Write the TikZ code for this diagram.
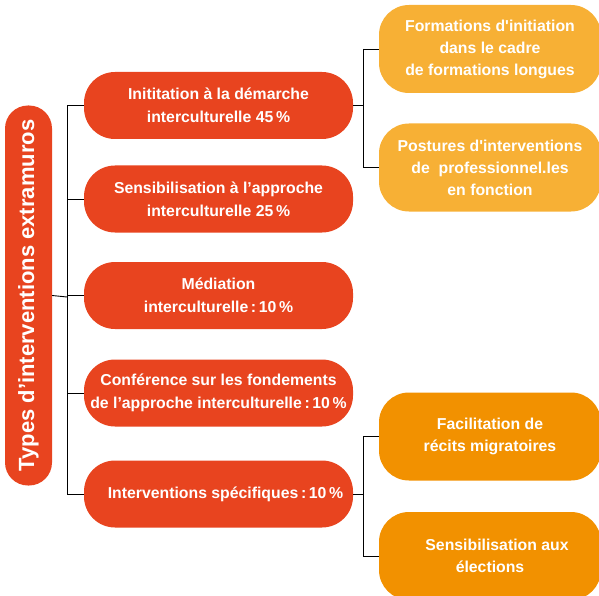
\documentclass[tikz,border=0pt]{standalone}
\usepackage{fontspec}
\setmainfont{Liberation Sans}
\definecolor{redbox}{HTML}{E8441F}
\definecolor{lightorange}{HTML}{F7B035}
\definecolor{darkorange}{HTML}{F29100}
\newcommand{\sq}{\textquotesingle}
\begin{document}
\begin{tikzpicture}[x=1pt,y=-1pt,
  lvlone/.style={fill=redbox, text=white, rounded corners=31pt, minimum width=269pt, minimum height=67pt, inner sep=0pt, align=center, font=\fontsize{15.8}{23}\selectfont\bfseries},
  lvltwoA/.style={fill=lightorange, text=white, rounded corners=30pt, minimum width=222pt, minimum height=88pt, inner sep=0pt, align=center, font=\fontsize{15.8}{22}\selectfont\bfseries},
  lvltwoB/.style={fill=darkorange, text=white, rounded corners=30pt, minimum width=222pt, minimum height=88pt, inner sep=0pt, align=center, font=\fontsize{15.8}{22}\selectfont\bfseries},
  rootbox/.style={fill=redbox, text=white, rounded corners=23pt, minimum width=380pt, minimum height=47pt, inner sep=0pt, rotate=90, font=\fontsize{22}{26}\selectfont\bfseries},
  link/.style={draw=black, line width=0.9pt}
]
\useasboundingbox (0,0) rectangle (599,596);
\begin{scope}
\clip (0,0) rectangle (599,596);
\node[rootbox] (root) at (28.5,295.5) {Types d’interventions extramuros};

\node[lvlone] (b1) at (218.5,105.5) {Inititation à la démarche\\interculturelle 45\,\%};
\node[lvlone] (b2) at (218.5,199) {Sensibilisation à l’approche\\interculturelle 25\,\%};
\node[lvlone] (b3) at (218.5,295.5) {Médiation\\interculturelle\,:\,10\,\%};
\node[lvlone] (b4) at (218.5,393) {Conférence sur les fondements\\de l’approche interculturelle\,:\,10\,\%};
\node[lvlone] (b5) at (218.5,494) {\hspace*{14pt}Interventions spécifiques\,:\,10\,\%};

\node[lvltwoA] (o1) at (490,49) {Formations d\sq initiation\\dans le cadre\\de formations longues};
\node[lvltwoA] (o2) at (490,167.5) {Postures d\sq interventions\\de\ \ professionnel.les\\en fonction};
\node[lvltwoB] (o3) at (490,436.5) {Facilitation de\\récits migratoires};
\node[lvltwoB] (o4) at (490,556) {\hspace*{14pt}Sensibilisation aux\\élections};
\end{scope}

\coordinate (busL) at (67,297);
\coordinate (busR) at (363,108);
\coordinate (busB) at (363,496);

\draw[link] (root.south) -- (busL);
\draw[link] (busL |- b1.west) -- (busL |- b5.west);
\foreach \b in {b1,b2,b3,b4,b5} {
  \draw[link] (busL |- \b.west) -- (\b.west);
}
\draw[link] (b1.east) -- (busR |- b1.east);
\draw[link] (busR |- o1.west) -- (busR |- o2.west);
\draw[link] (busR |- o1.west) -- (o1.west);
\draw[link] (busR |- o2.west) -- (o2.west);

\draw[link] (b5.east) -- (busB |- b5.east);
\draw[link] (busB |- o3.west) -- (busB |- o4.west);
\draw[link] (busB |- o3.west) -- (o3.west);
\draw[link] (busB |- o4.west) -- (o4.west);
\end{tikzpicture}
\end{document}
